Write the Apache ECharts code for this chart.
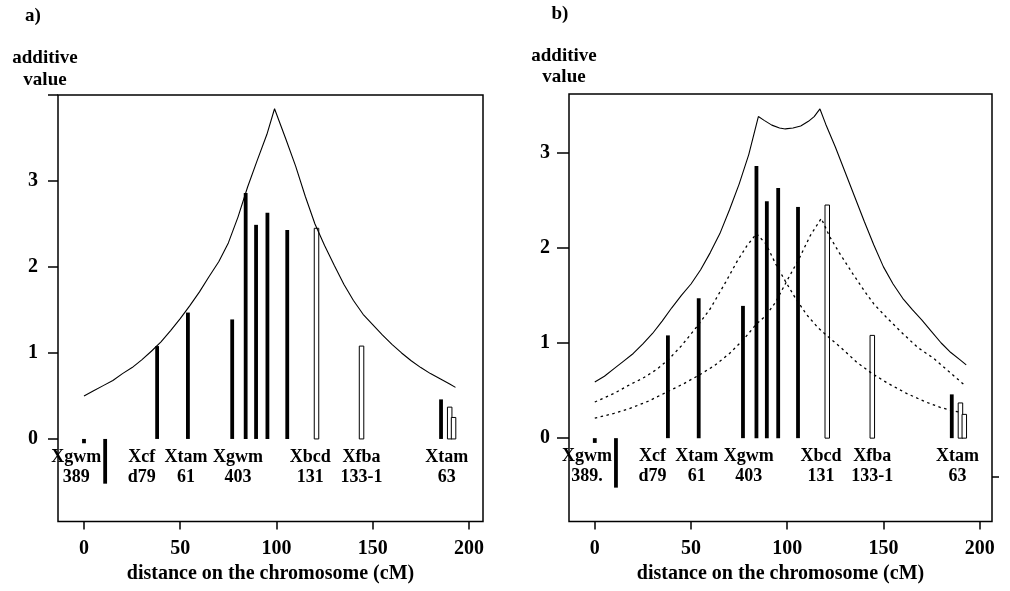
<!DOCTYPE html>
<html>
<head>
<meta charset="utf-8">
<script src="https://cdn.jsdelivr.net/npm/echarts@6/dist/echarts.min.js"></script>
<style>
  html, body { margin: 0; padding: 0; background: #fff; }
  #chart { width: 1010px; height: 591px; }
</style>
</head>
<body>
<div id="chart"></div>
<script>
// marker positions (cM) and additive values of the single markers (same in a and b)
var barCm    = [0, 11, 38, 54, 77, 84, 89.4, 95.3, 105.6, 120.8, 144.2, 185.5, 190, 192];
var barValue = [-0.05, -0.52, 1.08, 1.47, 1.39, 2.86, 2.49, 2.63, 2.43, 2.45, 1.08, 0.46, 0.37, 0.25];
var barKind  = ['filled', 'filled', 'filled', 'filled', 'filled', 'filled', 'filled', 'filled', 'filled',
                'open', 'open', 'filled', 'open', 'open'];

// marker names under the bars
var labelCm     = [-4, 30, 53, 80, 117.5, 144.2, 188.5];
var labelTextA  = ['Xgwm\n389', 'Xcf\nd79', 'Xtam\n61', 'Xgwm\n403', 'Xbcd\n131', 'Xfba\n133-1', 'Xtam\n63'];
var labelTextB  = ['Xgwm\n389.', 'Xcf\nd79', 'Xtam\n61', 'Xgwm\n403', 'Xbcd\n131', 'Xfba\n133-1', 'Xtam\n63'];

// a) one QTL curve
var curveACm  = [0, 5, 10, 15, 20, 25, 30, 35, 40, 45, 50, 55, 60, 65, 70, 75, 80, 85, 90, 95, 99,
                 105, 110, 115, 120, 125, 130, 135, 140, 145, 150, 155, 160, 165, 170, 175, 180, 185, 190, 193];
var curveAVal = [0.50, 0.56, 0.62, 0.68, 0.76, 0.83, 0.92, 1.02, 1.13, 1.26, 1.40, 1.55, 1.71, 1.89, 2.06, 2.28, 2.58, 2.93, 3.24, 3.54, 3.84,
                 3.48, 3.17, 2.82, 2.50, 2.25, 2.02, 1.80, 1.61, 1.45, 1.33, 1.21, 1.10, 1.00, 0.91, 0.83, 0.76, 0.70, 0.64, 0.60];

// b) two QTL model, total curve
var curveBCm  = [0, 5, 10, 15, 20, 25, 30, 35, 40, 45, 50, 55, 60, 65, 70, 75, 80, 85, 88, 92, 96, 99, 103, 107, 111, 114, 117,
                 120, 125, 130, 135, 140, 145, 150, 155, 160, 165, 170, 175, 180, 185, 190, 193];
var curveBVal = [0.59, 0.65, 0.73, 0.81, 0.89, 0.99, 1.10, 1.23, 1.37, 1.50, 1.62, 1.77, 1.95, 2.15, 2.40, 2.67, 2.98, 3.38, 3.34, 3.29, 3.26, 3.25, 3.26, 3.28, 3.33, 3.38, 3.46,
                 3.30, 3.06, 2.80, 2.54, 2.28, 2.03, 1.80, 1.62, 1.47, 1.35, 1.24, 1.12, 1.00, 0.90, 0.82, 0.77];

// b) first QTL component
var qtl1Cm  = [0, 10, 18, 25, 32, 38, 45, 53, 60, 68, 74, 79, 84, 89, 94, 99, 104, 110, 116, 121, 128, 136, 144, 152, 162, 172, 180, 186, 190];
var qtl1Val = [0.38, 0.47, 0.56, 0.63, 0.72, 0.82, 0.97, 1.17, 1.36, 1.64, 1.86, 2.02, 2.15, 2.04, 1.83, 1.65, 1.48, 1.30, 1.16, 1.07, 0.95, 0.80, 0.68, 0.58, 0.47, 0.38, 0.32, 0.29, 0.27];

// b) second QTL component
var qtl2Cm  = [0, 10, 18, 28, 38, 46, 54, 62, 70, 77, 84, 89, 94, 100, 106, 112, 117.7, 122, 127, 134, 140, 145, 152, 160, 168, 176, 184, 192];
var qtl2Val = [0.21, 0.26, 0.31, 0.39, 0.49, 0.57, 0.66, 0.76, 0.89, 1.03, 1.20, 1.29, 1.43, 1.66, 1.88, 2.13, 2.31, 2.12, 1.95, 1.73, 1.55, 1.41, 1.26, 1.10, 0.95, 0.84, 0.70, 0.56];

var xTicks  = [0, 50, 100, 150, 200];
var yTicksA = [0, 1, 2, 3, 4];
var yLabelsA = [0, 1, 2, 3];
var yTicksB = [0, 1, 2, 3];

var FONT = '"Liberation Serif", "Times New Roman", serif';

function pairs(xs, ys) {
    return xs.map(function (x, i) { return [x, ys[i]]; });
}

function barItem(params, api) {
    var x = api.value(0), v = api.value(1);
    var open = barKind[params.dataIndex] === 'open';
    var p0 = api.coord([x, 0]);
    var p1 = api.coord([x, v]);
    var w = open ? 4.5 : 3.8;
    var top = Math.min(p0[1], p1[1]);
    var h = Math.max(Math.abs(p1[1] - p0[1]), 1);
    return {
        type: 'rect',
        shape: { x: p0[0] - w / 2, y: top, width: w, height: h },
        style: open ? { fill: '#fff', stroke: '#000', lineWidth: 1 } : { fill: '#000' }
    };
}

function labelRenderer(texts) {
    return function (params, api) {
        var p = api.coord([api.value(0), 0]);
        return {
            type: 'text',
            x: p[0], y: p[1] + 8,
            style: {
                text: texts[params.dataIndex],
                fontFamily: FONT, fontWeight: 'bold', fontSize: 18, lineHeight: 20,
                fill: '#000', align: 'center', verticalAlign: 'top'
            }
        };
    };
}

var tickStyle = { color: '#000', width: 1.5 };
var labelStyle = { color: '#000', fontFamily: FONT, fontWeight: 'bold', fontSize: 20 };
var nameStyle = { color: '#000', fontFamily: FONT, fontWeight: 'bold', fontSize: 20 };

function xAxisFor(grid, min, max) {
    return {
        gridIndex: grid, type: 'value', min: min, max: max, position: 'bottom',
        axisLine: { show: false, onZero: false },
        axisTick: { customValues: xTicks, length: 8, lineStyle: tickStyle },
        axisLabel: Object.assign({ customValues: xTicks, margin: 17 }, labelStyle),
        splitLine: { show: false },
        name: 'distance on the chromosome (cM)', nameLocation: 'middle', nameGap: 42,
        nameTextStyle: nameStyle
    };
}

var myChart = echarts.init(document.getElementById('chart'));

var option = {
    backgroundColor: '#fff',
    animation: false,
    graphic: [
        { type: 'text', x: 33, y: 16, style: { text: 'a)', font: 'bold 19px ' + FONT, fill: '#000', align: 'center', verticalAlign: 'middle' } },
        { type: 'text', x: 45, y: 69, style: { text: 'additive\nvalue', fontFamily: FONT, fontWeight: 'bold', fontSize: 19, lineHeight: 22, fill: '#000', align: 'center', verticalAlign: 'middle' } },
        { type: 'text', x: 560, y: 14, style: { text: 'b)', font: 'bold 19px ' + FONT, fill: '#000', align: 'center', verticalAlign: 'middle' } },
        { type: 'text', x: 564, y: 66.5, style: { text: 'additive\nvalue', fontFamily: FONT, fontWeight: 'bold', fontSize: 19, lineHeight: 21, fill: '#000', align: 'center', verticalAlign: 'middle' } }
    ],
    grid: [
        { left: 58, top: 95, width: 425, height: 426.5, show: true, borderColor: '#000', borderWidth: 1.5, backgroundColor: 'transparent' },
        { left: 569, top: 94, width: 423, height: 427.5, show: true, borderColor: '#000', borderWidth: 1.5, backgroundColor: 'transparent' }
    ],
    xAxis: [
        xAxisFor(0, -13.5, 207.3),
        xAxisFor(1, -13.4, 206.4)
    ],
    yAxis: [
        {
            gridIndex: 0, type: 'value', min: -0.96, max: 4, position: 'left',
            axisLine: { show: false, onZero: false },
            axisTick: { customValues: yTicksA, length: 10, lineStyle: tickStyle },
            axisLabel: Object.assign({ customValues: yLabelsA, margin: 20 }, labelStyle),
            splitLine: { show: false }
        },
        {
            gridIndex: 1, type: 'value', min: -0.876, max: 3.617, position: 'left',
            axisLine: { show: false, onZero: false },
            axisTick: { customValues: yTicksB, length: 12, lineStyle: tickStyle },
            axisLabel: Object.assign({ customValues: yTicksB, margin: 19 }, labelStyle),
            splitLine: { show: false }
        },
        {
            gridIndex: 1, type: 'value', min: -0.876, max: 3.617, position: 'right',
            axisLine: { show: false, onZero: false },
            axisTick: { customValues: [-0.41], length: 7, lineStyle: tickStyle },
            axisLabel: { show: false },
            splitLine: { show: false }
        }
    ],
    series: [
        {
            name: 'a) QTL', type: 'line', xAxisIndex: 0, yAxisIndex: 0,
            data: pairs(curveACm, curveAVal), showSymbol: false, smooth: false,
            lineStyle: { color: '#000', width: 1.1 }, z: 3
        },
        {
            name: 'a) markers', type: 'custom', xAxisIndex: 0, yAxisIndex: 0,
            data: pairs(barCm, barValue), renderItem: barItem, z: 2
        },
        {
            name: 'a) labels', type: 'custom', xAxisIndex: 0, yAxisIndex: 0,
            data: labelCm.map(function (x) { return [x, 0]; }), renderItem: labelRenderer(labelTextA), z: 4
        },
        {
            name: 'b) total', type: 'line', xAxisIndex: 1, yAxisIndex: 1,
            data: pairs(curveBCm, curveBVal), showSymbol: false, smooth: false,
            lineStyle: { color: '#000', width: 1.1 }, z: 3
        },
        {
            name: 'b) QTL 1', type: 'line', xAxisIndex: 1, yAxisIndex: 1,
            data: pairs(qtl1Cm, qtl1Val), showSymbol: false, smooth: false,
            lineStyle: { color: '#000', width: 1.3, type: [2.5, 3.5] }, z: 3
        },
        {
            name: 'b) QTL 2', type: 'line', xAxisIndex: 1, yAxisIndex: 1,
            data: pairs(qtl2Cm, qtl2Val), showSymbol: false, smooth: false,
            lineStyle: { color: '#000', width: 1.3, type: [2.5, 3.5] }, z: 3
        },
        {
            name: 'b) markers', type: 'custom', xAxisIndex: 1, yAxisIndex: 1,
            data: pairs(barCm, barValue), renderItem: barItem, z: 2
        },
        {
            name: 'b) labels', type: 'custom', xAxisIndex: 1, yAxisIndex: 1,
            data: labelCm.map(function (x) { return [x, 0]; }), renderItem: labelRenderer(labelTextB), z: 4
        }
    ]
};

myChart.setOption(option);
</script>
</body>
</html>
